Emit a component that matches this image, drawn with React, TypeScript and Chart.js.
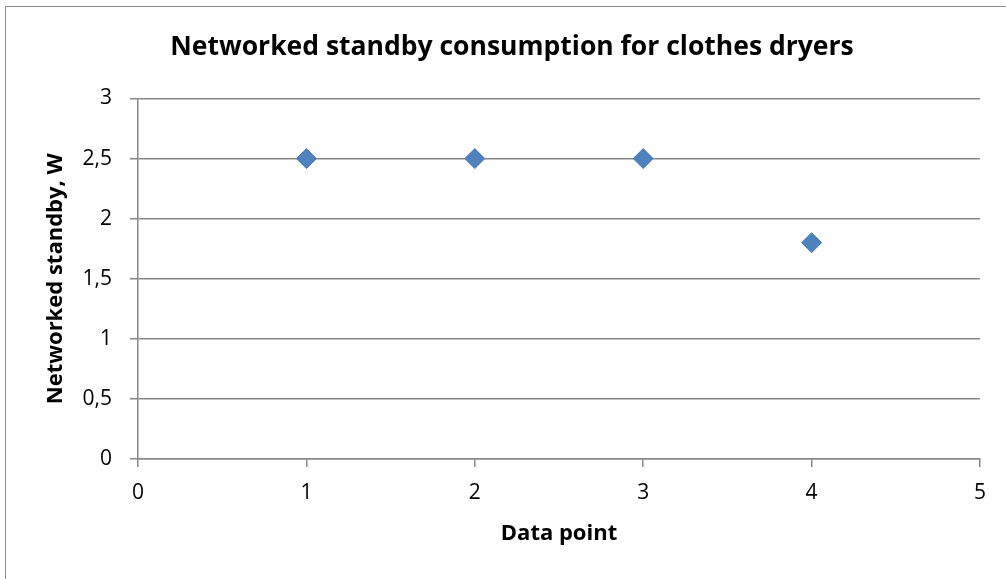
import React, { useEffect, useRef } from "react";
import { Chart, registerables } from "chart.js";

Chart.register(...registerables);

const chartTitle = "Networked standby consumption for clothes dryers";
const xAxisTitle = "Data point";
const yAxisTitle = "Networked standby, W";
const dataPoints = [1, 2, 3, 4];
const standbyWatts = [2.5, 2.5, 2.5, 1.8];
const xRange = [0, 5];
const yRange = [0, 3];

const FONT = "'Open Sans', 'Noto Sans', sans-serif";
const GRID = "#878787";

const decorPlugin = {
  id: "decor",
  afterDraw(chart: any) {
    const ctx = chart.ctx;
    ctx.save();
    ctx.strokeStyle = "#8c8c8c";
    ctx.lineWidth = 1;
    ctx.beginPath();
    ctx.moveTo(5.5, 579);
    ctx.lineTo(5.5, 6.5);
    ctx.lineTo(1006, 6.5);
    ctx.stroke();
    ctx.fillStyle = "#000";
    ctx.font = `bold 26.5px ${FONT}`;
    ctx.textAlign = "center";
    ctx.textBaseline = "middle";
    ctx.fillText(chartTitle, 512, 47.5);
    ctx.restore();
  },
};

export default function App() {
  const ref = useRef<HTMLCanvasElement | null>(null);
  useEffect(() => {
    if (!ref.current) return;
    const chart = new Chart(ref.current, {
      type: "scatter",
      data: {
        datasets: [
          {
            data: dataPoints.map((x, i) => ({ x, y: standbyWatts[i] })),
            pointStyle: "rectRot",
            pointRadius: 10,
            pointHoverRadius: 10,
            backgroundColor: "#4F81BD",
            borderColor: "#4A7EBB",
            borderWidth: 1,
          },
        ],
      },
      plugins: [decorPlugin],
      options: {
        animation: false,
        responsive: false,
        layout: { padding: { left: 0, right: 26, top: 98.5, bottom: 0 } },
        plugins: {
          legend: { display: false },
          tooltip: { enabled: false },
          title: { display: false },
        },
        scales: {
          x: {
            type: "linear",
            min: xRange[0],
            max: xRange[1],
            afterFit(scale: any) {
              scale.height = 120;
            },
            ticks: {
              stepSize: 1,
              color: "#000",
              font: { family: FONT, size: 21 },
              padding: 13,
            },
            grid: {
              drawOnChartArea: false,
              drawTicks: true,
              tickLength: 8,
              color: GRID,
              lineWidth: 1.5,
            },
            border: { display: true, color: GRID, width: 1.5 },
            title: {
              display: true,
              text: xAxisTitle,
              color: "#000",
              font: { family: FONT, size: 22, weight: "bold" },
              padding: { top: 0, bottom: 32 },
            },
          },
          y: {
            type: "linear",
            min: yRange[0],
            max: yRange[1],
            afterFit(scale: any) {
              scale.width = 138;
            },
            ticks: {
              stepSize: 0.5,
              color: "#000",
              font: { family: FONT, size: 21 },
              padding: 18,
              callback: (v: any) => String(v).replace(".", ","),
            },
            grid: {
              drawOnChartArea: true,
              drawTicks: true,
              tickLength: 8,
              color: GRID,
              lineWidth: 1.5,
            },
            border: { display: true, color: GRID, width: 1.5 },
            title: {
              display: true,
              text: yAxisTitle,
              color: "#000",
              font: { family: FONT, size: 22, weight: "bold" },
              padding: { top: 43, bottom: 0 },
            },
          },
        },
      },
    } as any);
    return () => chart.destroy();
  }, []);
  return (
    <div style={{ position: "fixed", left: 0, top: 0, width: 1006, height: 579, background: "#fff" }}>
      <canvas ref={ref} width={1006} height={579} style={{ display: "block", width: 1006, height: 579 }} />
    </div>
  );
}
